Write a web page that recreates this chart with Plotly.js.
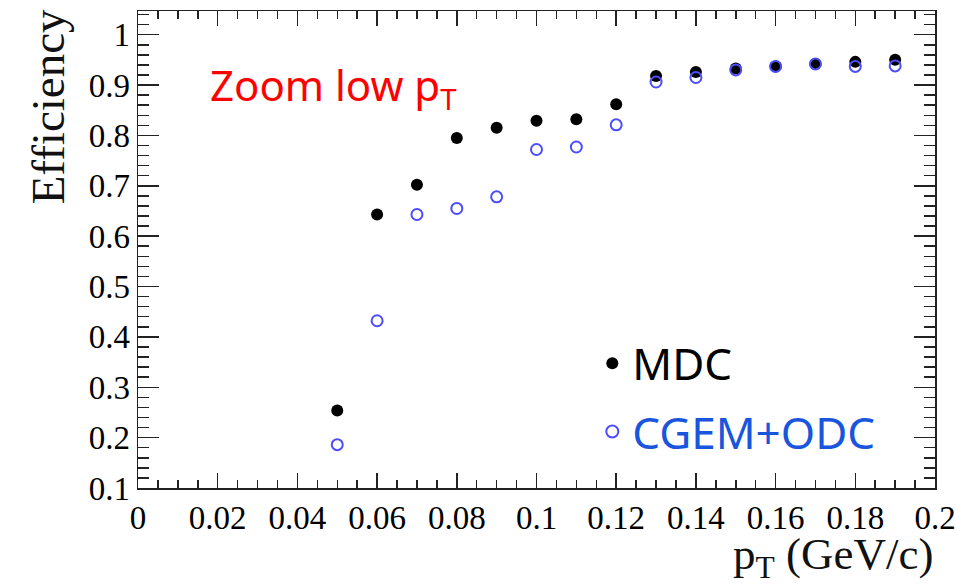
<!DOCTYPE html>
<html>
<head>
<meta charset="utf-8">
<script src="https://cdn.plot.ly/plotly-3.0.1.min.js"></script>
<style>html,body{margin:0;padding:0;background:#fff;}#chart{width:956px;height:587px;}</style>
</head>
<body>
<div id="chart"></div>
<script>
// Data
const pT = [0.05, 0.06, 0.07, 0.08, 0.09, 0.10, 0.11, 0.12, 0.13, 0.14, 0.15, 0.16, 0.17, 0.18, 0.19];
const effMDC = [0.254, 0.643, 0.702, 0.795, 0.815, 0.829, 0.832, 0.862, 0.918, 0.926, 0.933, 0.937, 0.942, 0.946, 0.950];
const effCGEM = [0.186, 0.432, 0.643, 0.655, 0.678, 0.772, 0.777, 0.821, 0.906, 0.915, 0.930, 0.937, 0.942, 0.937, 0.938];
const seriesNames = ['MDC', 'CGEM+ODC'];
const xTitle = 'p<sub>T</sub> (GeV/c)';
const yTitle = 'Efficiency';
const label = 'Zoom low p<sub>T</sub>';

const serif = 'Liberation Serif';
const sans = 'Noto Sans';

const traces = [
  {
    x: pT, y: effMDC, type: 'scatter', mode: 'markers',
    name: '<span style="color:#000000">' + seriesNames[0] + '</span>',
    marker: {color: '#000000', size: 12, symbol: 'circle'},
    legendgroup: 'a'
  },
  {
    x: pT, y: effCGEM, type: 'scatter', mode: 'markers',
    name: '<span style="color:#1a55dd">' + seriesNames[1] + '</span>',
    marker: {color: '#4d4dff', size: 11, symbol: 'circle-open', line: {color: '#4d4dff', width: 2}},
    legendgroup: 'b'
  },
  {x: [], y: [], xaxis: 'x2', yaxis: 'y2', type: 'scatter', mode: 'markers', showlegend: false, hoverinfo: 'skip'}
];

const layout = {
  width: 956, height: 587,
  margin: {l: 138, r: 21, t: 11, b: 99},
  paper_bgcolor: '#fff', plot_bgcolor: '#fff',
  font: {family: serif, size: 28, color: '#111'},
  showlegend: true,
  legend: {
    x: 0.57, y: 0.335, xanchor: 'left', yanchor: 'top',
    bgcolor: 'rgba(0,0,0,0)', font: {family: sans, size: 44, color: '#000'},
    itemsizing: 'constant', traceorder: 'grouped', tracegroupgap: 8
  },
  xaxis: {
    range: [0, 0.2], tickmode: 'linear', dtick: 0.02, tick0: 0, ticklen: 15,
    showgrid: false, zeroline: false,
    showline: true, linecolor: '#222', linewidth: 1.5, mirror: 'ticks',
    ticks: 'inside', tickcolor: '#222', tickwidth: 1.5,
    tickfont: {family: serif, size: 33, color: 'black'}
  },
  yaxis: {
    range: [0.1, 1.047], tickmode: 'linear', dtick: 0.1, tick0: 0, ticklen: 21,
    showgrid: false, zeroline: false,
    showline: true, linecolor: '#222', linewidth: 1.5, mirror: 'ticks',
    ticks: 'inside', tickcolor: '#222', tickwidth: 1.5,
    tickfont: {family: serif, size: 33, color: 'black'}
  },
  xaxis2: {
    overlaying: 'x', range: [0, 0.2], dtick: 0.005, tick0: 0, ticklen: 8,
    showgrid: false, zeroline: false, showline: false, showticklabels: false,
    mirror: 'ticks', ticks: 'inside', tickcolor: '#222', tickwidth: 1.5
  },
  yaxis2: {
    overlaying: 'y', range: [0.1, 1.047], dtick: 0.02, tick0: 0, ticklen: 11,
    showgrid: false, zeroline: false, showline: false, showticklabels: false,
    mirror: 'ticks', ticks: 'inside', tickcolor: '#222', tickwidth: 1.5
  },
  annotations: [
    {text: yTitle, xref: 'paper', yref: 'paper', x: -0.113, y: 0.80, textangle: -90,
     showarrow: false, xanchor: 'center', yanchor: 'middle', font: {family: serif, size: 47, color: '#111'}},
    {text: xTitle, xref: 'paper', yref: 'paper', x: 1.0, y: -0.145, showarrow: false,
     xanchor: 'right', yanchor: 'middle', font: {family: serif, size: 45, color: '#111'}},
    {text: label, xref: 'paper', yref: 'paper', x: 0.0878, y: 0.84, showarrow: false,
     xanchor: 'left', yanchor: 'middle', font: {family: sans, size: 42, color: '#ff0000'}}
  ]
};

Plotly.newPlot('chart', traces, layout, {displayModeBar: false, staticPlot: true});
</script>
</body>
</html>
